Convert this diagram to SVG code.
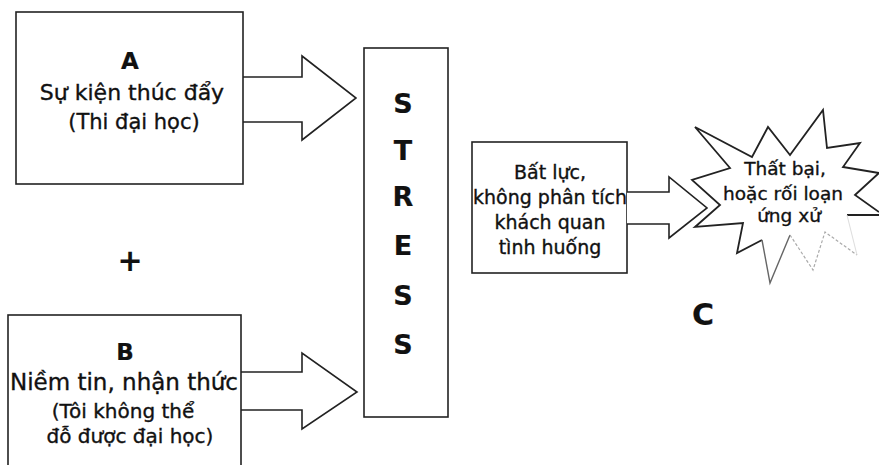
<svg xmlns="http://www.w3.org/2000/svg" width="879" height="465" viewBox="0 0 879 465">
<style>
text{font-family:"DejaVu Sans","Liberation Sans",sans-serif;fill:#111;stroke:#111;stroke-width:0.35;text-anchor:middle}
.b{font-weight:bold;stroke-width:0.2}
.box{fill:#fff;stroke:#222;stroke-width:1.6}
.arr{fill:#fff;stroke:#222;stroke-width:1.6;stroke-linejoin:miter}
</style>
<rect width="879" height="465" fill="#fff"/>
<g id="connectors">
<path class="arr" d="M243,77 L302,77 L302,56 L356,98 L302,140 L302,122 L243,122"/>
<path class="arr" d="M241,372 L302,372 L302,353 L357,392 L302,429 L302,410 L241,410"/>
</g>
<g id="nodeA">
<rect class="box" x="16" y="12" width="227" height="172"/>
<text class="b" x="130" y="69" font-size="23">A</text>
<text x="132" y="100" font-size="22">Sự kiện thúc đẩy</text>
<text x="134" y="129" font-size="21">(Thi đại học)</text>
</g>
<g id="plus">
<text class="b" x="130" y="271" font-size="30">+</text>
</g>
<g id="nodeB">
<rect class="box" x="8" y="315" width="233" height="170"/>
<text class="b" x="125" y="360" font-size="23">B</text>
<text x="124" y="390" font-size="23">Niềm tin, nhận thức</text>
<text x="123" y="418" font-size="20">(Tôi không thể</text>
<text x="130" y="443" font-size="20">đỗ được đại học)</text>
</g>
<g id="stress">
<rect class="box" x="364" y="48" width="84" height="369"/>
<text class="b" x="403" y="113" font-size="27">S</text>
<text class="b" x="403" y="160" font-size="27">T</text>
<text class="b" x="403" y="206" font-size="27">R</text>
<text class="b" x="403" y="255" font-size="27">E</text>
<text class="b" x="403" y="305" font-size="27">S</text>
<text class="b" x="403" y="354" font-size="27">S</text>
</g>
<g id="nodeBatLuc">
<rect class="box" x="472" y="142" width="155" height="131"/>
<text x="550" y="179" font-size="19">Bất lực,</text>
<text x="550" y="204" font-size="19">không phân tích</text>
<text x="550" y="229" font-size="19">khách quan</text>
<text x="550" y="254" font-size="19">tình huống</text>
</g>
<g id="connectorC">
<path class="arr" stroke-width="2.2" d="M627,192 L669,192 L669,177 L707,208 L669,238 L669,224 L627,224"/>
</g>
<g id="nodeC">
<polygon fill="#fff" stroke="none" points="879,215 847,215 857,255 825,232 813,270 790,235 770,283 762,240 737,253 743,223 695,227 720,205 692,180 730,168 695,127 752,157 768,127 790,155 823,110 827,148 860,143 843,167 879,173 855,195"/>
<path fill="none" stroke="#222" stroke-width="1.8" stroke-linejoin="miter" d="M879,212 L855,195 L879,173 L843,167 L860,143 L827,148 L823,110 L790,155 L768,127 L752,157 L695,127 L730,168 L692,180 L720,205 L695,227 L743,223 L737,253 L762,240 M847,215 L879,215"/>
<path fill="none" stroke="#666" stroke-width="1.4" d="M762,240 L770,283 L790,235"/>
<path fill="none" stroke="#aaa" stroke-width="1.2" stroke-dasharray="3 2" d="M790,235 L813,270 L825,232 L857,255"/>
<path fill="none" stroke="#ddd" stroke-width="1" d="M857,255 L847,215"/>
<text x="785" y="175" font-size="18.5">Thất bại,</text>
<text x="783" y="200" font-size="18.5">hoặc rối loạn</text>
<text x="789" y="222" font-size="18.5">ứng xử</text>
<text class="b" x="703" y="325" font-size="30">C</text>
</g>
</svg>
